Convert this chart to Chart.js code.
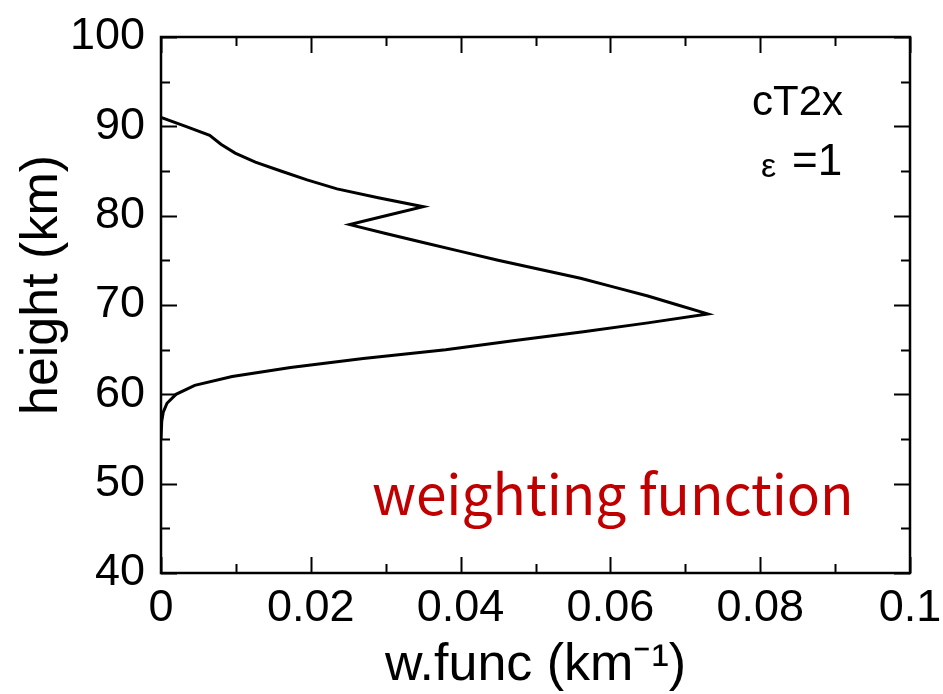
<!DOCTYPE html>
<html lang="en">
<head>
    <meta charset="UTF-8">
    <title>cT2x weighting function</title>
    <script src="https://cdn.jsdelivr.net/npm/chart.js"></script>
    <style>
        html, body {
            margin: 0;
            padding: 0;
            background: #fff;
        }
        #wrap {
            width: 943px;
            height: 694px;
        }
    </style>
</head>
<body>
    <div id="wrap">
        <canvas id="myChart" width="943" height="694"></canvas>
    </div>

    <script>
        // height (km) and weighting function (km^-1)
        const alturas = [91, 90, 89, 88, 87, 86, 85, 84, 83, 82, 81, 80, 79, 78, 77, 76, 75, 74, 73, 72, 71, 70, 69,
                         68, 67, 66, 65, 64, 63, 62, 61, 60, 59, 58, 57, 56, 55];
        const wfunc = [0, 0.0033, 0.0065, 0.008, 0.0099, 0.0126, 0.016, 0.0195, 0.0235, 0.029, 0.035, 0.030, 0.0252,
                       0.030, 0.035, 0.040, 0.045, 0.0505, 0.056, 0.0605, 0.065, 0.069, 0.073,
                       0.065, 0.0564, 0.047, 0.038, 0.027, 0.0173, 0.0095, 0.0045, 0.002, 0.0008, 0.0003, 0.0001, 0, 0];

        const xTicks = [0, 0.02, 0.04, 0.06, 0.08, 0.1];
        const xTickLabels = ['0', '0.02', '0.04', '0.06', '0.08', '0.1'];
        const yTicks = [40, 50, 60, 70, 80, 90, 100];
        const yTickLabels = ['40', '50', '60', '70', '80', '90', '100'];

        const fonte = "'Liberation Sans', Arial, sans-serif";

        // frame, inward ticks and the text notes
        const moldura = {
            id: 'moldura',
            afterDraw(chart) {
                const ctx = chart.ctx;
                const a = chart.chartArea;
                const sx = chart.scales.x;
                const sy = chart.scales.y;
                ctx.save();
                ctx.strokeStyle = '#000';
                ctx.lineWidth = 2.5;
                ctx.strokeRect(a.left, a.top, a.right - a.left, a.bottom - a.top);

                ctx.lineWidth = 2;
                ctx.beginPath();
                for (let v = 40; v <= 100; v += 5) {
                    const p = Math.round(sy.getPixelForValue(v)) + 0.5;
                    const len = v % 10 === 0 ? 16 : 9;
                    ctx.moveTo(a.left, p); ctx.lineTo(a.left + len, p);
                    ctx.moveTo(a.right, p); ctx.lineTo(a.right - len, p);
                }
                for (let i = 0; i <= 10; i++) {
                    const p = Math.round(sx.getPixelForValue(i / 100)) + 0.5;
                    const len = i % 2 === 0 ? 16 : 9;
                    ctx.moveTo(p, a.bottom); ctx.lineTo(p, a.bottom - len);
                    ctx.moveTo(p, a.top); ctx.lineTo(p, a.top + len);
                }
                ctx.stroke();

                // y axis title
                ctx.fillStyle = '#000';
                ctx.save();
                ctx.translate(43, 285);
                ctx.rotate(-Math.PI / 2);
                ctx.font = '52px ' + fonte;
                ctx.textAlign = 'center';
                ctx.textBaseline = 'middle';
                ctx.fillText('height (km)', 0, 0);
                ctx.restore();

                // notes
                ctx.font = '42px ' + fonte;
                ctx.textAlign = 'left';
                ctx.textBaseline = 'alphabetic';
                ctx.fillText('cT2x', 752, 115);
                ctx.font = '34px ' + fonte;
                ctx.fillText('ε', 761, 177);
                ctx.font = '44px ' + fonte;
                ctx.fillText('=1', 792, 175);

                ctx.fillStyle = '#c00000';
                ctx.font = "55px 'Noto Sans CJK JP', 'Noto Sans', sans-serif";
                ctx.fillText('weighting function', 372, 515);
                ctx.restore();
            }
        };

        new Chart(document.getElementById('myChart'), {
            type: 'scatter',
            data: {
                datasets: [{
                    label: 'w.func',
                    data: alturas.map((h, i) => ({x: wfunc[i], y: h})),
                    showLine: true,
                    borderColor: '#000',
                    borderWidth: 3,
                    pointRadius: 0,
                    tension: 0
                }]
            },
            options: {
                responsive: false,
                animation: false,
                layout: {
                    padding: {top: 37, right: 33, left: 0, bottom: 0}
                },
                plugins: {
                    legend: {display: false},
                    tooltip: {enabled: false}
                },
                scales: {
                    x: {
                        type: 'linear',
                        min: 0,
                        max: 0.1,
                        grid: {display: false},
                        border: {display: false},
                        afterBuildTicks: (s) => { s.ticks = xTicks.map(v => ({value: v})); },
                        afterFit: (s) => { s.height = 121; },
                        ticks: {
                            padding: 1,
                            color: '#000',
                            font: {family: fonte, size: 45},
                            maxRotation: 0,
                            callback: (v, i) => xTickLabels[i]
                        },
                        title: {
                            display: true,
                            text: 'w.func (km⁻¹)',
                            color: '#000',
                            font: {family: fonte, size: 52},
                            padding: {top: 0, bottom: -3}
                        }
                    },
                    y: {
                        type: 'linear',
                        min: 40,
                        max: 100,
                        grid: {display: false},
                        border: {display: false},
                        afterBuildTicks: (s) => { s.ticks = yTicks.map(v => ({value: v})); },
                        afterFit: (s) => { s.width = 161; },
                        ticks: {
                            padding: 8,
                            color: '#000',
                            font: {family: fonte, size: 45},
                            callback: (v, i) => yTickLabels[i]
                        }
                    }
                }
            },
            plugins: [moldura]
        });
    </script>
</body>
</html>
